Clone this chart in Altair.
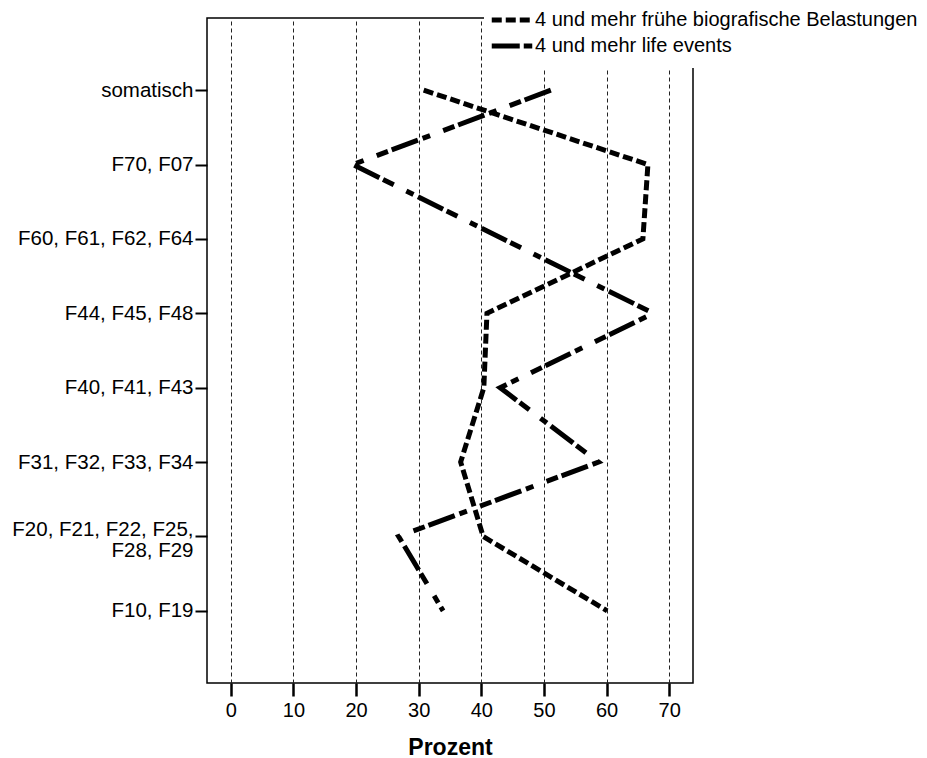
import altair as alt
import pandas as pd

categories = ["somatisch", "F70, F07", "F60, F61, F62, F64", "F44, F45, F48",
              "F40, F41, F43", "F31, F32, F33, F34",
              "F20, F21, F22, F25,|F28, F29", "F10, F19"]
series_names = ["4 und mehr frühe biografische Belastungen", "4 und mehr life events"]
fruehe = [30.8, 66.6, 65.8, 40.9, 40.4, 36.7, 40.3, 60.1]
life_events = [51.1, 19.5, 43.5, 67.5, 43.0, 58.7, 26.8, 33.9]
x_ticks = [0, 10, 20, 30, 40, 50, 60, 70]

rows = []
for i, c in enumerate(categories):
    rows.append({"cat": c, "idx": i, "serie": series_names[0], "wert": fruehe[i]})
for i, c in enumerate(categories):
    rows.append({"cat": c, "idx": i, "serie": series_names[1], "wert": life_events[i]})
df = pd.DataFrame(rows)

FONT = "Arial"

chart = alt.Chart(df).mark_line(
    strokeWidth=5, color="black", strokeCap="butt", strokeJoin="miter"
).encode(
    x=alt.X("wert:Q",
            scale=alt.Scale(domain=[-3.8, 73.8], nice=False, zero=False),
            axis=alt.Axis(values=x_ticks, title="Prozent", grid=True,
                          gridDash=[4, 3], gridColor="#222", gridWidth=1,
                          domain=False, tickSize=13, tickWidth=2.5, tickColor="black",
                          labelFontSize=20, labelFont=FONT, labelColor="black",
                          labelPadding=4, titleFontSize=23, titleFont=FONT,
                          titleFontWeight="bold", titleColor="black", titlePadding=16)),
    y=alt.Y("cat:N", sort=categories,
            scale=alt.Scale(type="point", padding=0.97),
            axis=alt.Axis(title=None, grid=False, domain=False, tickSize=12,
                          tickWidth=2, tickColor="black", labelFontSize=20.5,
                          labelFont=FONT, labelColor="black", labelPadding=2,
                          labelLimit=400, labelLineHeight=21,
                          labelOffset=alt.condition("indexof(datum.label, '|') >= 0",
                                                    alt.value(-7), alt.value(0)),
                          labelExpr="split(datum.label, '|')")),
    strokeDash=alt.StrokeDash("serie:N",
                              scale=alt.Scale(domain=series_names,
                                              range=[[10, 4], [28, 4, 12, 14, 8, 5]]),
                              legend=alt.Legend(title=None, orient="none",
                                                legendX=277, legendY=-26,
                                                fillColor="white", padding=12,
                                                symbolType="M-1.5,0H1.5", symbolSize=729,
                                                symbolStrokeWidth=5,
                                                symbolStrokeColor="black",
                                                labelFontSize=20, labelFont=FONT,
                                                labelColor="black", labelLimit=600,
                                                labelOffset=7, rowPadding=0)),
    order=alt.Order("idx:Q"),
    detail="serie:N",
).properties(
    width=486, height=665,
    autosize=alt.AutoSizeParams(type="none"),
    padding={"left": 199, "top": 10, "right": 224, "bottom": 75},
).configure_view(
    stroke="black", strokeWidth=1.5, fill="white"
)

chart.save("out.html", embed_options={"renderer": "svg", "actions": False})
